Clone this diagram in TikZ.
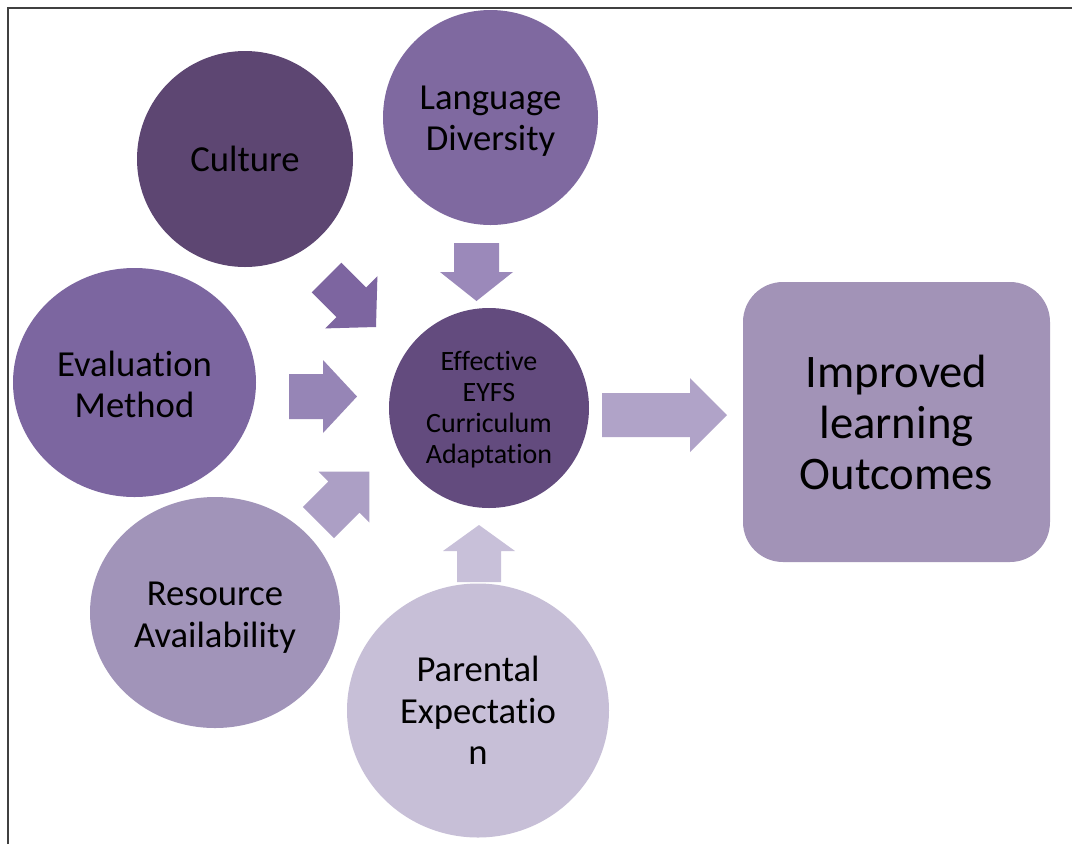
\documentclass[tikz,border=0pt]{standalone}
\usepackage{fontspec}
\setmainfont{Carlito}[Ligatures=NoCommon]
\usetikzlibrary{shapes.geometric}
\definecolor{cCulture}{HTML}{5D4672}
\definecolor{cLang}{HTML}{7F69A0}
\definecolor{cEval}{HTML}{7C66A0}
\definecolor{cRes}{HTML}{A194B9}
\definecolor{cPar}{HTML}{C7BFD7}
\definecolor{cCenter}{HTML}{634B7E}
\definecolor{cBox}{HTML}{A293B7}
\definecolor{aTop}{HTML}{9B89BA}
\definecolor{aDiag}{HTML}{7D65A0}
\definecolor{aLeft}{HTML}{9685B6}
\definecolor{aLow}{HTML}{AC9FC5}
\definecolor{aUp}{HTML}{C8C0D9}
\definecolor{aBig}{HTML}{B0A3C8}
\definecolor{frameC}{HTML}{404040}
% #1 colour, #2 base point, #3 angle, #4 shaft length, #5 shaft half width, #6 head length, #7 head half width
\newcommand\blockarr[7]{%
  \fill[#1, shift={#2}, rotate=#3] (0,-#5) -- (#4,-#5) -- (#4,-#7) -- ({#4+#6},0) -- (#4,#7) -- (#4,#5) -- (0,#5) -- cycle;}
\begin{document}
\begin{tikzpicture}[x=0.75pt,y=-0.75pt,
  blob/.style={ellipse, inner sep=0pt},
  txt/.style={inner sep=0pt, align=center, text=black,
    font=\fontsize{27.5pt}{31pt}\selectfont},
  frame/.style={draw=frameC, line width=1.6pt}]
\useasboundingbox (0,0) rectangle (1072,844);
\fill[white] (0,0) rectangle (1072,844);
\draw[frame] (8,844) -- (8,8) -- (1072,8);

\node[blob, fill=cCulture, minimum width=162pt, minimum height=162pt] (culture) at (245,159) {};
\node[blob, fill=cLang, minimum width=161.25pt, minimum height=161.25pt] (lang) at (490.5,117.5) {};
\node[blob, fill=cEval, minimum width=182.25pt, minimum height=171.75pt] (eval) at (134.5,382.5) {};
\node[blob, fill=cRes, minimum width=187.5pt, minimum height=173.25pt] (res) at (215,612.5) {};
\node[blob, fill=cPar, minimum width=196.5pt, minimum height=190.5pt] (par) at (478,710.5) {};
\node[blob, fill=cCenter, minimum width=150pt, minimum height=150pt] (center) at (489,408) {};
\node[rectangle, rounded corners=30pt, fill=cBox, minimum width=230.25pt, minimum height=210pt,
  inner sep=0pt] (out) at (896.5,422) {};

\node[txt] (culturet) at ([yshift=0pt]culture.center) {Culture};
\node[txt] (langt) at ([yshift=-3pt]lang.center) {Language\\Diversity};
\node[txt] (evalt) at ([yshift=-1.2pt]eval.center) {Evaluation\\Method};
\node[txt] (rest) at ([yshift=-3.8pt]res.center) {Resource\\Availability};
\node[txt] (part) at ([yshift=0pt]par.center) {Parental\\Expectatio\\n};
\node[txt, font=\fontsize{21pt}{23.25pt}\selectfont] (centert) at ([yshift=-1.5pt]center.center)
  {Effective\\EYFS\\Curriculum\\Adaptation};
\node[txt, font=\fontsize{35pt}{38.25pt}\selectfont] (outt) at (out.center) {Improved\\learning\\Outcomes};

% block arrows
\blockarr{aTop}{(476.5,243)}{-90}{29}{22.5}{29}{36.5}
\blockarr{aDiag}{(326.5,277.5)}{-45}{35}{21}{35}{37}
\blockarr{aLeft}{(289,396.5)}{0}{34}{22.5}{34}{36.5}
\blockarr{aLow}{(318.5,522.5)}{45}{36}{22}{36}{36}
\blockarr{aUp}{(479,582)}{90}{31}{22}{26}{36}
\blockarr{aBig}{(602,415)}{0}{88}{22}{37}{37}
\end{tikzpicture}
\end{document}
